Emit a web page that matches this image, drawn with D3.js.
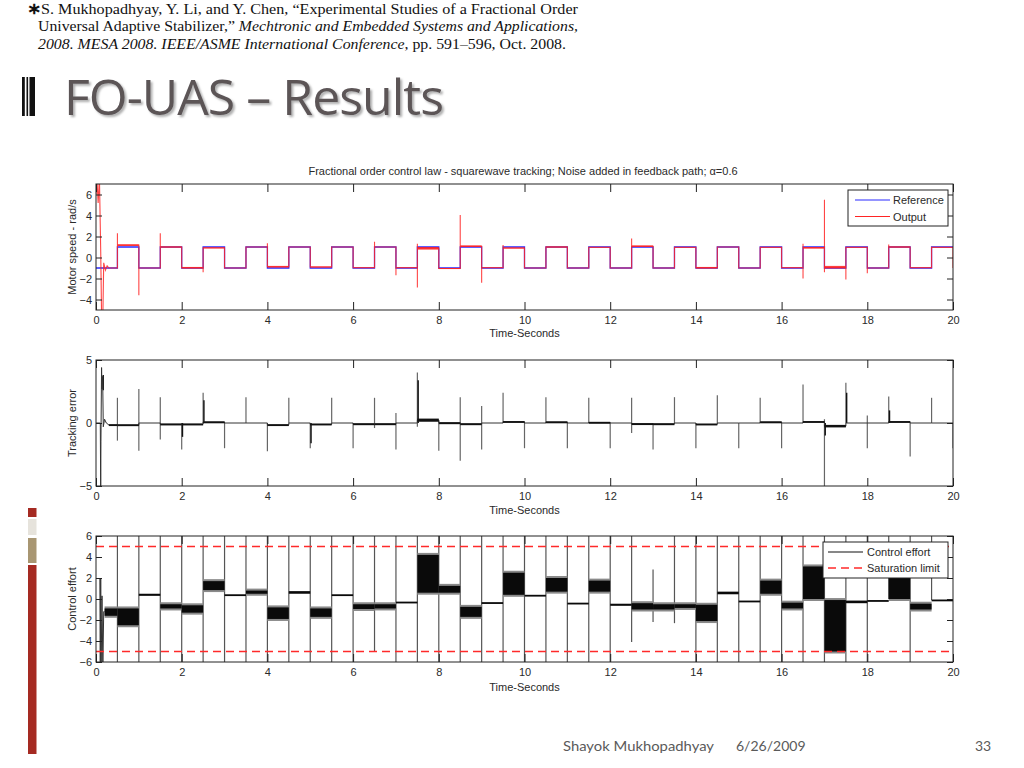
<!DOCTYPE html>
<html><head><meta charset="utf-8">
<script src="https://cdn.jsdelivr.net/npm/d3@7"></script>
<style>body{margin:0;background:#fff;} svg{display:block}</style>
</head><body>
<script>
// ---------------- DATA ----------------
const segT = [0,0.5,1,1.5,2,2.5,3,3.5,4,4.5,5,5.5,6,6.5,7,7.5,8,8.5,9,9.5,
              10,10.5,11,11.5,12,12.5,13,13.5,14,14.5,15,15.5,16,16.5,17,17.5,18,18.5,19,19.5];
const tEnd = 20;
const xTickValues = [0,2,4,6,8,10,12,14,16,18,20];
const speedTicks = [-4,-2,0,2,4,6];
const errTicks = [-5,0,5];
const effortTicks = [-6,-4,-2,0,2,4,6];

// Reference square wave (per 0.5 s segment)
const refLevels = [-1,1,-1,1,-1,1,-1,1,-1,1,-1,1,-1,1,-1,1,-1,1,-1,1,
                   -1,1,-1,1,-1,1,-1,1,-1,1,-1,1,-1,1,-1,1,-1,1,-1,1];
// Output: start-up transient, per-segment [low, high] band, spikes at switching instants
const outTransient = [[0,6],[0.02,7.6],[0.05,5.2],[0.08,7.6],[0.11,0.6],[0.13,-5.6],[0.16,-5.6],[0.18,-0.5],[0.22,-1.2],[0.26,-0.8],[0.3,-1]];
const outBand = [[-1,-1],[1.1,1.25],[-1,-1],[0.95,1.05],[-1.05,-0.9],[0.88,0.95],[-1,-1],[1,1],[-0.95,-0.8],[1,1],
                 [-0.95,-0.85],[1,1],[-1,-0.95],[1,1],[-1,-0.95],[0.75,1.0],[-1.1,-1.0],[1.0,1.15],[-1.0,-0.95],[0.85,0.95],
                 [-1,-1],[0.95,1.05],[-1,-1],[0.95,1.0],[-1,-1],[1.0,1.15],[-1,-1],[0.95,1.0],[-1.05,-0.9],[1,1],
                 [-1,-1],[0.95,1.0],[-1,-0.95],[0.85,1.0],[-1.05,-0.8],[0.95,1.0],[-1,-1],[0.95,1.05],[-1,-0.95],[0.95,1.0]];
const outSpikes = [[0.5,2.3],[1,-3.6],[1.5,2.3],[2.5,-1.4],[4,1.35],[6.5,1.5],[7,-1.7],[7.5,-2.85],[7.5,1.3],
                   [8.5,4.05],[9,-2.4],[9.5,1.2],[12.5,1.8],[16.5,-2.0],[16.5,1.3],[17,5.5],[17,-1.4],
                   [17.5,-2.1],[18,-1.5],[18.5,1.25],[20,-1]];

// Tracking error
const errTransient = [[0,0],[0.1,0],[0.11,-5.5],[0.115,-1.5],[0.13,4.4],[0.14,2.7],[0.155,3.7],[0.17,-0.3],[0.2,0.3],[0.24,0],[0.3,-0.15]];
const errBand = [[-0.2,-0.1],[-0.25,-0.1],[0,0],[-0.12,-0.05],[-0.12,-0.05],[0.05,0.12],[0,0],[0,0],[-0.2,-0.1],[0,0],
                 [-0.15,-0.05],[0,0],[-0.1,-0.03],[-0.1,-0.03],[0,0],[0.1,0.35],[0,0.05],[-0.1,-0.03],[0,0],[0.05,0.15],
                 [0,0],[0.05,0.12],[0,0],[0.03,0.08],[0,0],[-0.08,-0.02],[-0.1,-0.03],[0,0],[-0.15,-0.05],[0,0],
                 [0,0],[0.05,0.12],[0,0],[0.05,0.15],[-0.35,-0.15],[0,0],[0,0],[0.05,0.15],[0,0],[0,0]];
const errSpikes = [[0.5,-1.4,2.0],[1,-2.2,2.7],[1.5,-1.3,2.05],[2,-2.1,0],[2.5,0,2.4],[3,-2.0,0],[3.5,0,2.05],[4,-2.25,0],
                   [4.5,0,2.0],[5,-2.0,0],[5.5,0,2.0],[6,-2.0,0],[6.5,-0.4,2.0],[7,-2.1,0.8],[7.5,-0.3,4.0],[8,-2.2,0.2],
                   [8.5,-3.0,2.05],[9,-2.1,1.35],[9.5,0,2.4],[10,-2.0,0],[10.5,0,2.05],[11,-2.0,0],[11.5,0,2.0],[12,-2.0,0],
                   [12.5,-0.8,2.0],[13,-2.1,0],[13.5,0,2.05],[14,-2.0,0],[14.5,0,2.2],[15,-2.0,0],[15.5,0,2.0],[16,-2.0,0],
                   [16.5,0,3.05],[17,-5.5,0.3],[17.5,0,3.2],[18,-2.0,0.6],[18.5,0,2.1],[19,-2.65,0],[19.5,0,2.0],[20,-2.0,0]];
// darker, thicker starts of some error spikes
const errSpikeCores = [[0.15,2.6,3.8],[2,-1.1,0],[2.5,0,1.8],[5,-1.6,0],[7.5,0,3.4],[17,-1.0,0],[17.5,0,2.4],[18.5,0,1.0]];

// Control effort
const effTransient = [[0.09,2.0],[0.1,-6.5],[0.11,2.0],[0.12,-6.5],[0.14,0.3],[0.16,-6.5],[0.18,-1.2],[0.2,-1.2]];
const effBand = [[-1.6,-0.9],[-2.5,-0.9],[0.3,0.5],[-0.9,-0.5],[-1.3,-0.6],[0.85,1.7],[0.3,0.45],[0.5,0.8],[-1.9,-0.8],[0.5,0.75],
                 [-1.7,-0.9],[0.3,0.45],[-0.95,-0.5],[-0.9,-0.5],[-0.4,-0.25],[0.6,4.2],[0.6,1.25],[-1.7,-0.75],[-0.45,-0.3],[0.4,2.5],
                 [0.3,0.4],[0.7,2.0],[-0.45,-0.35],[0.7,1.75],[-0.65,-0.45],[-1.0,-0.4],[-1.0,-0.5],[-0.85,-0.5],[-2.1,-0.55],[0.45,0.7],
                 [-0.3,-0.15],[0.5,1.75],[-0.9,-0.35],[0.0,3.1],[-5.0,-0.1],[-0.4,-0.15],[-0.2,-0.1],[0.0,2.0],[-1.0,-0.45],[-0.2,-0.05]];
const effSpikes = [[0.5,-6.5,6.5],[1,-6.5,6.5],[1.5,-6.5,6.5],[2,-6.5,6.5],[2.5,-6.5,6.5],[3,-6.5,6.5],[3.5,-6.5,6.5],[4,-6.5,6.5],
                   [4.5,-6.5,6.5],[5,-6.5,6.5],[5.5,-6.5,6.5],[6,-6.5,6.5],[6.5,-5,6.5],[7,-6.5,6.5],[7.5,-6.5,6.5],[8,-6.5,6.5],
                   [8.5,-6.5,6.5],[9,-6.5,6.5],[9.5,-6.5,6.5],[10,-6.5,6.5],[10.5,-6.5,6.5],[11,-6.5,6.5],[11.5,-6.5,6.5],[12,-6.5,6.5],
                   [12.5,-4.1,6.5],[13,-2.2,2.8],[13.5,-2.3,6.5],[14,-6.5,6.5],[14.5,-6.5,6.5],[15,-6.5,6.5],[15.5,-6.5,6.5],[16,-6.5,6.5],
                   [16.5,-6.5,6.5],[17,-6.5,6.5],[17.5,-6.5,6.5],[18,-6.5,6.5],[18.5,0,6.5],[19,-6.5,6.5],[19.5,-0.1,6.5]];
const satLimits = [5,-5];

// ---------------- DRAW ----------------
const W = 1024, H = 768;
const svg = d3.select("body").append("svg").attr("width", W).attr("height", H);
const defs = svg.append("defs");
const shadow = defs.append("filter").attr("id","shadow").attr("x","-10%").attr("y","-10%").attr("width","130%").attr("height","140%");
shadow.append("feDropShadow").attr("dx",2).attr("dy",2).attr("stdDeviation",1.2).attr("flood-color","#9a9a9a").attr("flood-opacity",0.8);

const AX_FONT = "'Liberation Sans', Arial, sans-serif";
const TXT = "#2a2a2a";

const x = d3.scaleLinear().domain([0, tEnd]).range([96, 953]);
const ySpeed = d3.scaleLinear().domain([-5, 7]).range([310, 184]);
const yErr = d3.scaleLinear().domain([-5, 5]).range([486, 360]);
const yEff = d3.scaleLinear().domain([-6, 6]).range([662, 536]);

function segEnd(i){ return i < segT.length - 1 ? segT[i+1] : tEnd; }

function panel(y, yTicks, id, yLabel, xLabelY) {
  const g = svg.append("g");
  const [y0, y1] = y.range();
  defs.append("clipPath").attr("id", id).append("rect")
    .attr("x", x(0)).attr("y", y1).attr("width", x(tEnd) - x(0)).attr("height", y0 - y1);
  const plot = g.append("g").attr("clip-path", `url(#${id})`);
  const styleAxis = s => { s.select(".domain").remove(); s.selectAll("line").attr("stroke", "#222");
    s.attr("font-family", AX_FONT).attr("font-size", 11); s.selectAll("text").attr("fill", TXT); };
  g.append("g").attr("transform", `translate(0,${y0})`)
    .call(d3.axisBottom(x).tickValues(xTickValues).tickSize(-8).tickPadding(6)).call(styleAxis);
  g.append("g").attr("transform", `translate(0,${y1})`)
    .call(d3.axisTop(x).tickValues(xTickValues).tickSize(-8).tickFormat("")).call(styleAxis);
  g.append("g").attr("transform", `translate(${x(0)},0)`)
    .call(d3.axisLeft(y).tickValues(yTicks).tickSize(-6).tickPadding(4)).call(styleAxis);
  g.append("g").attr("transform", `translate(${x(tEnd)},0)`)
    .call(d3.axisRight(y).tickValues(yTicks).tickSize(-6).tickFormat("")).call(styleAxis);
  g.append("rect").attr("x", x(0)).attr("y", y1).attr("width", x(tEnd) - x(0)).attr("height", y0 - y1)
    .attr("fill", "none").attr("stroke", "#222").attr("stroke-width", 1);
  g.append("text").attr("x", (x(0) + x(tEnd)) / 2).attr("y", xLabelY).attr("text-anchor", "middle")
    .attr("font-family", AX_FONT).attr("font-size", 11).attr("fill", TXT).text("Time-Seconds");
  g.append("text").attr("transform", `translate(76,${(y0 + y1) / 2}) rotate(-90)`).attr("text-anchor", "middle")
    .attr("font-family", AX_FONT).attr("font-size", 11).attr("fill", TXT).text(yLabel);
  return plot;
}

// ---- Panel 1: motor speed ----
const p1 = panel(ySpeed, speedTicks, "c1", "Motor speed - rad/s", 337);
svg.append("text").attr("x", 523).attr("y", 175).attr("text-anchor", "middle")
  .attr("font-family", AX_FONT).attr("font-size", 11).attr("fill", TXT)
  .text("Fractional order control law - squarewave tracking; Noise added in feedback path; \u03b1=0.6");

const refPts = segT.map((t, i) => [t, refLevels[i]]).concat([[tEnd, refLevels[refLevels.length - 1]]]);
const stepLine = d3.line().x(d => x(d[0])).y(d => ySpeed(d[1])).curve(d3.curveStepAfter);
p1.append("path").attr("d", stepLine(refPts)).attr("fill", "none").attr("stroke", "#2a2aff").attr("stroke-width", 1.3);

// output path
const outPts = outTransient.slice();
let prevMid = null;
segT.forEach((t, i) => {
  const mid = (outBand[i][0] + outBand[i][1]) / 2;
  if (i > 0) {
    outPts.push([t, prevMid]);
    outSpikes.filter(s => s[0] === t).forEach(s => outPts.push([t, s[1]]));
    outPts.push([t, mid]);
  } else {
    outPts.push([outTransient[outTransient.length - 1][0], mid]);
  }
  outPts.push([segEnd(i), mid]);
  prevMid = mid;
});
outSpikes.filter(s => s[0] === tEnd).forEach(s => outPts.push([tEnd, s[1]]));
p1.selectAll("rect.ob").data(segT.map((t, i) => ({t0: i === 0 ? 0.3 : t, t1: segEnd(i), b: outBand[i]})).filter(d => d.b[1] > d.b[0]))
  .join("rect").attr("class", "ob")
  .attr("x", d => x(d.t0)).attr("width", d => x(d.t1) - x(d.t0))
  .attr("y", d => ySpeed(d.b[1])).attr("height", d => ySpeed(d.b[0]) - ySpeed(d.b[1]))
  .attr("fill", "#ff1a1a").attr("opacity", 0.8);
p1.append("path").attr("d", d3.line().x(d => x(d[0])).y(d => ySpeed(d[1]))(outPts))
  .attr("fill", "none").attr("stroke", "#ff2424").attr("stroke-width", 1.1).attr("opacity", 0.85);

// legend 1
const lg1 = svg.append("g");
lg1.append("rect").attr("x", 848).attr("y", 190).attr("width", 100).attr("height", 36).attr("fill", "#fff").attr("stroke", "#222");
[["Reference", "#2a2aff", 200], ["Output", "#ff2424", 216.5]].forEach(([name, c, yy]) => {
  lg1.append("line").attr("x1", 855).attr("x2", 890).attr("y1", yy).attr("y2", yy).attr("stroke", c).attr("stroke-width", 1.2);
  lg1.append("text").attr("x", 893).attr("y", yy + 4).attr("font-family", AX_FONT).attr("font-size", 11).attr("fill", TXT).text(name);
});

// ---- Panel 2: tracking error ----
const p2 = panel(yErr, errTicks, "c2", "Tracking error", 514);
p2.selectAll("line.es").data(errSpikes).join("line").attr("class", "es")
  .attr("x1", d => x(d[0])).attr("x2", d => x(d[0])).attr("y1", d => yErr(d[1])).attr("y2", d => yErr(d[2]))
  .attr("stroke", "#666").attr("stroke-width", 1.2);
p2.selectAll("line.ec").data(errSpikeCores).join("line").attr("class", "ec")
  .attr("x1", d => x(d[0]) + 0.8).attr("x2", d => x(d[0]) + 0.8).attr("y1", d => yErr(d[1])).attr("y2", d => yErr(d[2]))
  .attr("stroke", "#111").attr("stroke-width", 1.4);
const errPts = errTransient.slice();
segT.forEach((t, i) => {
  const mid = (errBand[i][0] + errBand[i][1]) / 2;
  errPts.push([i === 0 ? errTransient[errTransient.length - 1][0] : t, mid]);
  errPts.push([segEnd(i), mid]);
});
p2.append("path").attr("d", d3.line().x(d => x(d[0])).y(d => yErr(d[1]))(errPts))
  .attr("fill", "none").attr("stroke", "#333").attr("stroke-width", 1);
p2.selectAll("rect.eb").data(segT.map((t, i) => ({t0: i === 0 ? 0.3 : t, t1: segEnd(i), b: errBand[i]})).filter(d => d.b[1] > d.b[0]))
  .join("rect").attr("class", "eb")
  .attr("x", d => x(d.t0)).attr("width", d => x(d.t1) - x(d.t0))
  .attr("y", d => yErr(d.b[1])).attr("height", d => Math.max(1.8, yErr(d.b[0]) - yErr(d.b[1])))
  .attr("fill", "#111");

// ---- Panel 3: control effort ----
const p3 = panel(yEff, effortTicks, "c3", "Control effort", 691);
p3.selectAll("line.cs").data(effSpikes).join("line").attr("class", "cs")
  .attr("x1", d => x(d[0])).attr("x2", d => x(d[0])).attr("y1", d => yEff(d[1])).attr("y2", d => yEff(d[2]))
  .attr("stroke", "#555").attr("stroke-width", 1.2);
p3.append("path").attr("d", d3.line().x(d => x(d[0])).y(d => yEff(d[1]))(effTransient))
  .attr("fill", "none").attr("stroke", "#333").attr("stroke-width", 1);
const effSegs = segT.map((t, i) => ({t0: i === 0 ? 0.2 : t, t1: segEnd(i), b: effBand[i]}));
// soft grey fringe of the noisy band
p3.selectAll("rect.cf").data(effSegs.filter(d => d.b[1] - d.b[0] > 0.3)).join("rect").attr("class", "cf")
  .attr("x", d => x(d.t0)).attr("width", d => x(d.t1) - x(d.t0))
  .attr("y", d => yEff(d.b[1]) - 2).attr("height", d => yEff(d.b[0]) - yEff(d.b[1]) + 4)
  .attr("fill", "#8a8a8a");
p3.selectAll("rect.cb").data(effSegs)
  .join("rect").attr("class", "cb")
  .attr("x", d => x(d.t0)).attr("width", d => x(d.t1) - x(d.t0))
  .attr("y", d => yEff(d.b[1])).attr("height", d => Math.max(1.8, yEff(d.b[0]) - yEff(d.b[1])))
  .attr("fill", "#0a0a0a");
p3.selectAll("line.sat").data(satLimits).join("line").attr("class", "sat")
  .attr("x1", x(0)).attr("x2", x(tEnd)).attr("y1", d => yEff(d)).attr("y2", d => yEff(d))
  .attr("stroke", "#ff2a2a").attr("stroke-width", 1.4).attr("stroke-dasharray", "8,5");

// legend 3
const lg3 = svg.append("g");
lg3.append("rect").attr("x", 823).attr("y", 542).attr("width", 125).attr("height", 36).attr("fill", "#fff").attr("stroke", "#222");
lg3.append("line").attr("x1", 828).attr("x2", 863).attr("y1", 552).attr("y2", 552).attr("stroke", "#111").attr("stroke-width", 1.1);
lg3.append("line").attr("x1", 828).attr("x2", 863).attr("y1", 568).attr("y2", 568).attr("stroke", "#ff2a2a").attr("stroke-width", 1.4).attr("stroke-dasharray", "8,5");
lg3.append("text").attr("x", 867).attr("y", 556).attr("font-family", AX_FONT).attr("font-size", 11).attr("fill", TXT).text("Control effort");
lg3.append("text").attr("x", 867).attr("y", 572).attr("font-family", AX_FONT).attr("font-size", 11).attr("fill", TXT).text("Saturation limit");

// ---------------- SLIDE DECORATION ----------------
const SERIF = "'Liberation Serif', 'Times New Roman', serif";
const cit = svg.append("g").attr("font-family", SERIF).attr("font-size", 15).attr("fill", "#111");
const l1 = cit.append("text").attr("x", 27).attr("y", 14).attr("textLength", 551).attr("lengthAdjust", "spacingAndGlyphs");
l1.append("tspan").attr("font-weight", "bold").attr("font-size", 16).text("\u2217");
l1.append("tspan").text("S. Mukhopadhyay, Y. Li, and Y. Chen, \u201cExperimental Studies of a Fractional Order");
const l2 = cit.append("text").attr("x", 38).attr("y", 31).attr("textLength", 540).attr("lengthAdjust", "spacingAndGlyphs");
l2.append("tspan").text("Universal Adaptive Stabilizer,\u201d ");
l2.append("tspan").attr("font-style", "italic").text("Mechtronic and Embedded Systems and Applications,");
const l3 = cit.append("text").attr("x", 38).attr("y", 49).attr("textLength", 528).attr("lengthAdjust", "spacingAndGlyphs");
l3.append("tspan").attr("font-style", "italic").text("2008. MESA 2008. IEEE/ASME International Conference");
l3.append("tspan").text(", pp. 591\u2013596, Oct. 2008.");

// title bars
[[22, 2.8], [26.5, 1.6], [29.5, 5.5]].forEach(([bx, bw]) => {
  svg.append("rect").attr("x", bx).attr("y", 77).attr("width", bw).attr("height", 39).attr("fill", "#111");
});
svg.append("text").attr("x", 64).attr("y", 115).attr("font-family", "'Open Sans', 'Noto Sans', sans-serif")
  .attr("font-size", 50).attr("fill", "#5b5457").attr("filter", "url(#shadow)")
  .attr("textLength", 379).attr("lengthAdjust", "spacingAndGlyphs").attr("letter-spacing", -1)
  .text("FO-UAS \u2013 Results");

// left decorative strip
[[508, 9, "#a52a22"], [519, 16, "#e6e3dc"], [538, 25, "#a89672"], [565, 189, "#a52a22"]].forEach(([yy, hh, c]) => {
  svg.append("rect").attr("x", 28).attr("y", yy).attr("width", 8.5).attr("height", hh).attr("fill", c);
});

// footer
const foot = svg.append("g").attr("font-family", "Lato, 'Open Sans', sans-serif").attr("font-size", 14).attr("fill", "#5a5a5a");
foot.append("text").attr("x", 563).attr("y", 751).attr("textLength", 151).attr("lengthAdjust", "spacingAndGlyphs").text("Shayok Mukhopadhyay");
foot.append("text").attr("x", 736).attr("y", 751).text("6/26/2009");
foot.append("text").attr("x", 975).attr("y", 751).text("33");
</script>
</body></html>
